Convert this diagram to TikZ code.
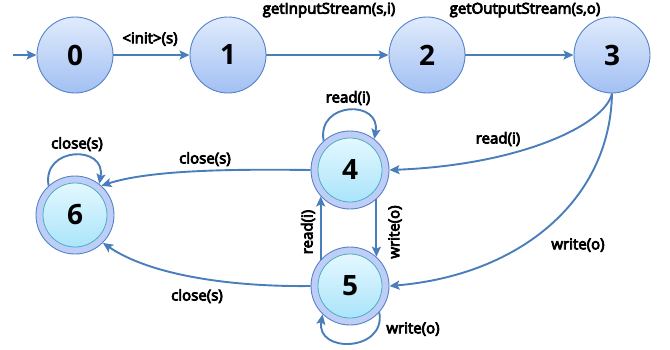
\documentclass[tikz,border=0pt]{standalone}
\usepackage{fontspec}
\setmainfont{Open Sans}
\newfontfamily\labelfont{Open Sans}[FakeBold=5]
\usetikzlibrary{arrows.meta}

\definecolor{edgeblue}{RGB}{74,126,187}
\definecolor{nodeborder}{RGB}{84,130,200}
\definecolor{nodetop}{RGB}{224,235,252}
\definecolor{nodebot}{RGB}{162,192,243}
\definecolor{ringfill}{RGB}{190,206,246}
\definecolor{innertop}{RGB}{234,250,255}
\definecolor{innerbot}{RGB}{164,226,250}
\definecolor{innerborder}{RGB}{75,172,198}

\tikzset{
  stnode/.style={circle, minimum size=76pt, inner sep=0pt, draw=nodeborder,
    line width=0.9pt, top color=nodetop, bottom color=nodebot,
    font=\fontsize{28}{28}\selectfont\bfseries},
  finalnode/.style={circle, minimum size=78pt, inner sep=0pt, draw=nodeborder,
    line width=0.9pt, fill=ringfill, font=\fontsize{28}{28}\selectfont\bfseries,
    path picture={
      \shade[top color=innertop, bottom color=innerbot]
        (path picture bounding box.center) circle (32pt);
      \draw[innerborder, line width=0.8pt]
        (path picture bounding box.center) circle (32pt);}},
  trans/.style={draw=edgeblue, line width=1.9pt,
    -{Stealth[length=10pt, width=9pt, inset=2pt]}},
  lbl/.style={font=\labelfont\fontsize{15}{15}\selectfont, inner sep=0pt, text=black}
}

\begin{document}
\begin{tikzpicture}[x=1pt, y=1pt]
\useasboundingbox (0,0) rectangle (670,-349);

% states
\node[stnode] (n0) at (75,-55) {0};
\node[stnode] (n1) at (228,-55) {1};
\node[stnode] (n2) at (427,-55) {2};
\node[stnode] (n3) at (612,-55) {3};
\node[finalnode] (n4) at (350,-170) {4};
\node[finalnode] (n5) at (350,-286) {5};
\node[finalnode] (n6) at (75,-215) {6};

\coordinate (start) at (13,-55);

% transitions along the top row
\draw[trans] (start) -- (n0);
\draw[trans] (n0) -- (n1);
\draw[trans] (n1) -- (n2);
\draw[trans] (n2) -- (n3);

% transitions out of 3
\draw[trans] (n3.south) .. controls (605,-125) and (520,-165) .. (n4.east);
\draw[trans] (n3.south) .. controls (610,-200) and (520,-275) .. (n5.east);

% transitions between 4 and 5
\draw[trans] (n4.-48) -- (n5.48);
\draw[trans] (n5.138) -- (n4.-138);

% transitions into 6
\draw[trans] (n4.west) .. controls (230,-169) and (150,-170) .. (n6.48);
\draw[trans] (n5.west) .. controls (230,-287) and (150,-275) .. (n6.-45);

% self loops
\draw[trans] (n4.132) to[out=100, in=80, distance=40pt] (n4.52);
\draw[trans] (n5.-42) to[out=-80, in=-100, distance=40pt] (n5.-134);
\draw[trans] (n6.132) to[out=100, in=80, distance=40pt] (n6.52);

% labels
\node[lbl] (l01) at (150,-39) {<init>(s)};
\node[lbl] (l12) at (329,-10) {getInputStream(s,i)};
\node[lbl] (l23) at (525,-10) {getOutputStream(s,o)};
\node[lbl] (l34) at (498,-139) {read(i)};
\node[lbl] (l35) at (578,-245) {write(o)};
\node[lbl] (l44) at (348,-98) {read(i)};
\node[lbl] (l55) at (413,-329) {write(o)};
\node[lbl] (l66) at (77,-144) {close(s)};
\node[lbl] (l46) at (205,-159) {close(s)};
\node[lbl] (l56) at (197,-296) {close(s)};
\node[lbl, rotate=90] (l54) at (308,-232) {read(i)};
\node[lbl, rotate=90] (l45) at (395,-232) {write(o)};
\end{tikzpicture}
\end{document}
